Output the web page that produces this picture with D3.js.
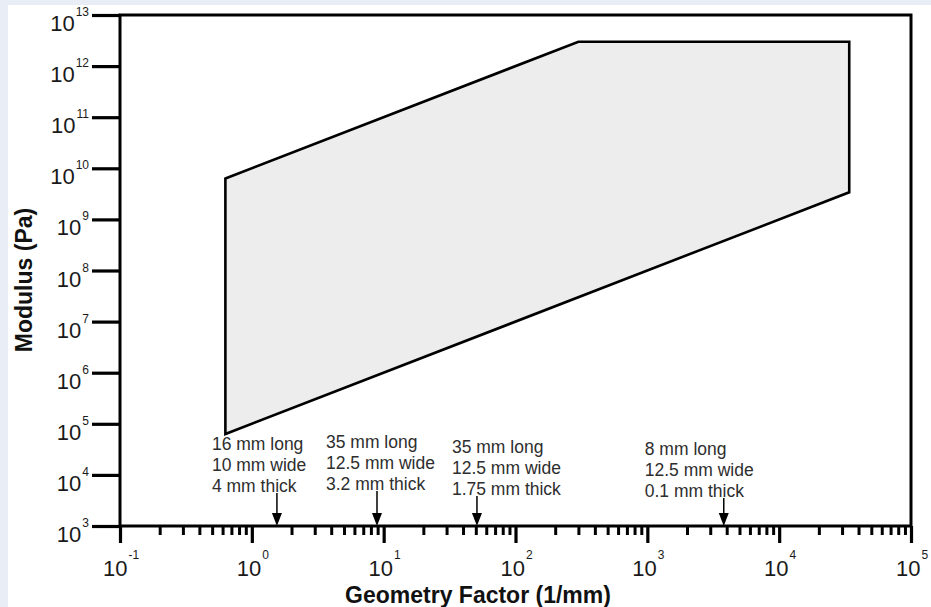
<!DOCTYPE html>
<html>
<head>
<meta charset="utf-8">
<script src="https://cdn.jsdelivr.net/npm/d3@7"></script>
<style>
  html, body { margin: 0; padding: 0; background: #e8edf6; }
  svg { display: block; font-family: "Liberation Sans", Arial, sans-serif; }
</style>
</head>
<body>
<svg id="chart" width="931" height="607"></svg>
<script>
// 坐标轴的十进制刻度（指数）
const xDecades = [-1, 0, 1, 2, 3, 4, 5];
const yDecades = [3, 4, 5, 6, 7, 8, 9, 10, 11, 12, 13];

// 可测模量范围（几何因子 1/mm, 模量 Pa）
const regionX = [0.63, 300, 34000, 34000, 0.63];
const regionY = [6.3e9, 3.0e12, 3.0e12, 3.4e9, 6.3e4];

// 试样尺寸标注及其几何因子位置
const sampleFactor = [1.55, 8.9, 51, 3800];
const sampleLines = [
  ['16 mm long', '10 mm wide', '4 mm thick'],
  ['35 mm long', '12.5 mm wide', '3.2 mm thick'],
  ['35 mm long', '12.5 mm wide', '1.75 mm thick'],
  ['8 mm long', '12.5 mm wide', '0.1 mm thick']
];

// 标注文字的偏移（布局用）
const labelDx = [-65, -51, -25, -79];
const labelTop = [450, 448, 453, 455];

const svg = d3.select('#chart');

// 白色画布
svg.append('rect')
  .attr('x', 8).attr('y', 5)
  .attr('width', 931 - 8).attr('height', 607 - 5)
  .attr('fill', '#ffffff');

const plot = { left: 120, right: 911, top: 15, bottom: 526 };

const x = d3.scaleLog()
  .domain([Math.pow(10, xDecades[0]), Math.pow(10, xDecades[xDecades.length - 1])])
  .range([plot.left, plot.right]);

const y = d3.scaleLog()
  .domain([Math.pow(10, yDecades[0]), Math.pow(10, yDecades[yDecades.length - 1])])
  .range([plot.bottom, plot.top]);

// 区域多边形
const pts = regionX.map((d, i) => [x(d), y(regionY[i])]);
svg.append('path')
  .attr('d', d3.line()(pts) + 'Z')
  .attr('fill', '#ededed')
  .attr('stroke', '#000')
  .attr('stroke-width', 2.6)
  .attr('stroke-linejoin', 'miter');

// 边框
svg.append('rect')
  .attr('x', plot.left).attr('y', plot.top)
  .attr('width', plot.right - plot.left).attr('height', plot.bottom - plot.top)
  .attr('fill', 'none')
  .attr('stroke', '#000')
  .attr('stroke-width', 3);

// y轴主刻度
const yAxis = d3.axisLeft(y)
  .tickValues(yDecades.map(e => Math.pow(10, e)))
  .tickSize(28)
  .tickSizeOuter(0)
  .tickFormat('');
const gy = svg.append('g').attr('transform', `translate(${plot.left},0)`).call(yAxis);
gy.select('.domain').remove();
gy.selectAll('line').attr('stroke', '#000').attr('stroke-width', 3.2);

// x轴主刻度与次刻度
const xAxis = d3.axisBottom(x)
  .tickValues(xDecades.map(e => Math.pow(10, e)))
  .tickSize(17)
  .tickSizeOuter(0)
  .tickFormat('');
const gx = svg.append('g').attr('transform', `translate(0,${plot.bottom})`).call(xAxis);
gx.select('.domain').remove();
gx.selectAll('line').attr('stroke', '#000').attr('stroke-width', 3.2);

const minors = [];
xDecades.slice(0, -1).forEach(e => {
  for (let k = 2; k <= 9; k++) minors.push(k * Math.pow(10, e));
});
const gxm = svg.append('g').attr('transform', `translate(0,${plot.bottom})`)
  .call(d3.axisBottom(x).tickValues(minors).tickSize(9).tickSizeOuter(0).tickFormat(''));
gxm.select('.domain').remove();
gxm.selectAll('line').attr('stroke', '#000').attr('stroke-width', 3);

// 刻度标签：10 加上标
function powLabel(sel, e, supDy) {
  sel.append('tspan').text('10');
  sel.append('tspan')
    .attr('dx', 1)
    .attr('dy', supDy)
    .attr('font-size', 12)
    .text(e);
}

yDecades.forEach(e => {
  const t = svg.append('text')
    .attr('x', 89)
    .attr('y', y(Math.pow(10, e)) + 16)
    .attr('text-anchor', 'end')
    .attr('font-size', 22)
    .attr('fill', '#1a1a1a');
  powLabel(t, e, -15);
});

xDecades.forEach(e => {
  const t = svg.append('text')
    .attr('x', x(Math.pow(10, e)) + 1)
    .attr('y', 576)
    .attr('text-anchor', 'middle')
    .attr('font-size', 22)
    .attr('fill', '#1a1a1a');
  powLabel(t, e, -17);
});

// 坐标轴标题
svg.append('text')
  .attr('x', 478)
  .attr('y', 603)
  .attr('text-anchor', 'middle')
  .attr('font-size', 23)
  .attr('font-weight', 'bold')
  .attr('fill', '#111')
  .text('Geometry Factor (1/mm)');

svg.append('text')
  .attr('transform', 'translate(32,280) rotate(-90)')
  .attr('text-anchor', 'middle')
  .attr('font-size', 23)
  .attr('font-weight', 'bold')
  .attr('fill', '#111')
  .text('Modulus (Pa)');

// 试样标注与箭头
sampleFactor.forEach((f, i) => {
  const ax = x(f);
  const t = svg.append('text')
    .attr('font-size', 17.5)
    .attr('fill', '#2e2e2e');
  sampleLines[i].forEach((line, j) => {
    t.append('tspan')
      .attr('x', ax + labelDx[i])
      .attr('y', labelTop[i] + j * 21)
      .text(line);
  });
  const stemTop = labelTop[i] + 2 * 21 + 1;
  svg.append('line')
    .attr('x1', ax).attr('x2', ax)
    .attr('y1', stemTop).attr('y2', plot.bottom - 10)
    .attr('stroke', '#000')
    .attr('stroke-width', 1.5);
  svg.append('path')
    .attr('d', `M${ax - 5},${plot.bottom - 13}L${ax + 5},${plot.bottom - 13}L${ax},${plot.bottom}Z`)
    .attr('fill', '#000');
});
</script>
</body>
</html>
